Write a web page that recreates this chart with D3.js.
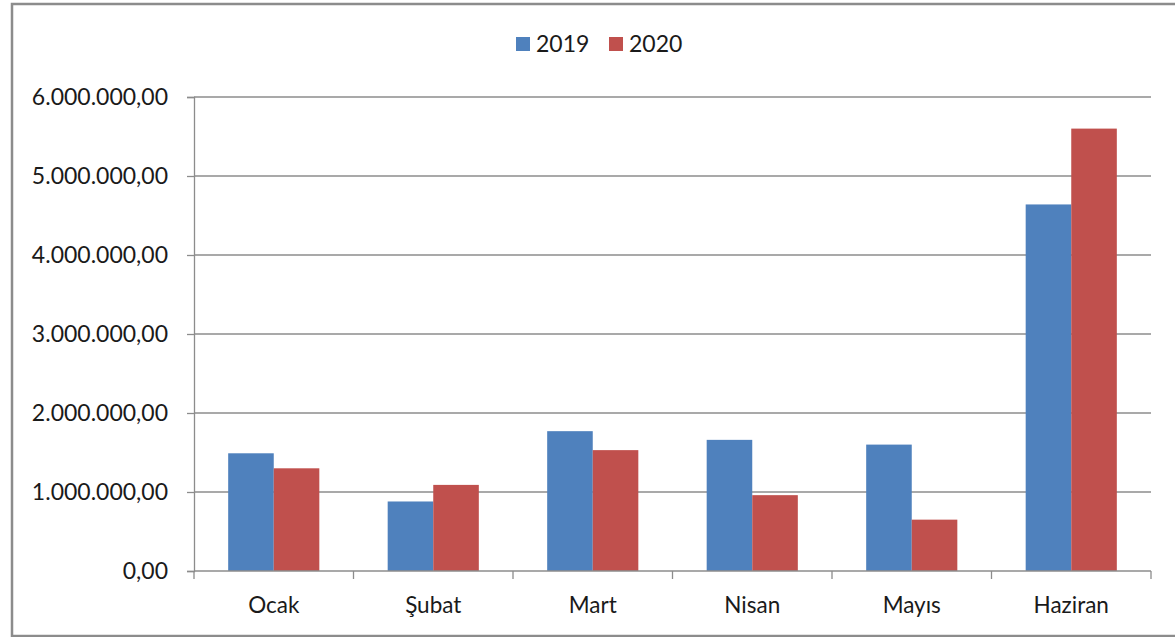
<!DOCTYPE html>
<html>
<head>
<meta charset="utf-8">
<script src="https://cdn.jsdelivr.net/npm/d3@7"></script>
<style>
  html, body { margin: 0; padding: 0; background: #fff; }
  svg { display: block; }
  text { font-family: Lato, "Open Sans", sans-serif; fill: #1a1a1a; }
</style>
</head>
<body>
<svg id="chart" width="1175" height="637"></svg>
<script>
const categories = ["Ocak", "Şubat", "Mart", "Nisan", "Mayıs", "Haziran"];
const seriesNames = ["2019", "2020"];
const values2019 = [1490000, 880000, 1770000, 1660000, 1600000, 4640000];
const values2020 = [1300000, 1090000, 1530000, 960000, 650000, 5600000];
const yTicks = [0, 1000000, 2000000, 3000000, 4000000, 5000000, 6000000];
const colors = ["#4F81BD", "#C0504D"];

(function () {
const svg = d3.select("#chart");
const W = 1175, H = 637;
const pLeft = 194, pRight = 1151, pTop = 97, pBottom = 571;

// border
svg.append("rect").attr("x", 12).attr("y", 4).attr("width", W + 10).attr("height", 632)
  .attr("fill", "none").attr("stroke", "#8c8c8c").attr("stroke-width", 2.5);

const x0 = d3.scaleBand().domain(categories).range([pLeft, pRight]).paddingInner(0.4286).paddingOuter(0.2143);
const x1 = d3.scaleBand().domain(seriesNames).range([0, x0.bandwidth()]);
const y = d3.scaleLinear().domain([0, 6000000]).range([pBottom, pTop]);

const fmt = v => {
  const s = d3.format(",.2f")(v);
  return s.replace(/,/g, "#").replace(/\./g, ",").replace(/#/g, ".");
};

// gridlines
svg.append("g").selectAll("line").data(yTicks.filter(d => d > 0)).join("line")
  .attr("x1", pLeft).attr("x2", pRight)
  .attr("y1", d => y(d)).attr("y2", d => y(d))
  .attr("stroke", "#8c8c8c").attr("stroke-width", 1.3);

// y axis
const yAxis = svg.append("g").attr("transform", `translate(${pLeft},0)`)
  .call(d3.axisLeft(y).tickValues(yTicks).tickFormat(fmt).tickSize(7).tickPadding(19));
yAxis.select(".domain").attr("stroke", "#8c8c8c").attr("stroke-width", 1.3);
yAxis.selectAll(".tick line").attr("stroke", "#8c8c8c").attr("stroke-width", 1.3);
yAxis.selectAll("text").style("font-size", "23px").style("font-family", "Lato, sans-serif").attr("fill", "#1a1a1a");

// bars
const data = categories.map((c, i) => ({ c, vals: [values2019[i], values2020[i]] }));
const groups = svg.append("g").selectAll("g").data(data).join("g")
  .attr("transform", d => `translate(${x0(d.c)},0)`);
groups.selectAll("rect").data(d => d.vals.map((v, j) => ({ v, s: seriesNames[j], j }))).join("rect")
  .attr("x", d => x1(d.s))
  .attr("y", d => y(d.v))
  .attr("width", x1.bandwidth())
  .attr("height", d => y(0) - y(d.v))
  .attr("fill", d => colors[d.j]);

// x axis
const xAxis = svg.append("g").attr("transform", `translate(0,${pBottom})`);
xAxis.append("line").attr("x1", pLeft).attr("x2", pRight).attr("y1", 0).attr("y2", 0)
  .attr("stroke", "#8c8c8c").attr("stroke-width", 1.3);
const bounds = d3.range(categories.length + 1).map(i => pLeft + i * (pRight - pLeft) / categories.length);
xAxis.selectAll(".tk").data(bounds).join("line").attr("class", "tk")
  .attr("x1", d => d).attr("x2", d => d).attr("y1", 0).attr("y2", 8)
  .attr("stroke", "#8c8c8c").attr("stroke-width", 1.3);
xAxis.selectAll("text").data(categories).join("text")
  .attr("x", d => x0(d) + x0.bandwidth() / 2)
  .attr("y", 42)
  .attr("text-anchor", "middle")
  .style("font-size", "22.5px")
  .text(d => d);

// legend
const legend = svg.append("g");
const legendPos = [{ sx: 516, tx: 536 }, { sx: 609, tx: 629 }];
seriesNames.forEach((s, i) => {
  legend.append("rect").attr("x", legendPos[i].sx).attr("y", 37).attr("width", 14).attr("height", 14).attr("fill", colors[i]);
  legend.append("text").attr("x", legendPos[i].tx).attr("y", 52).style("font-size", "23px").text(s);
});
})();
</script>
</body>
</html>
